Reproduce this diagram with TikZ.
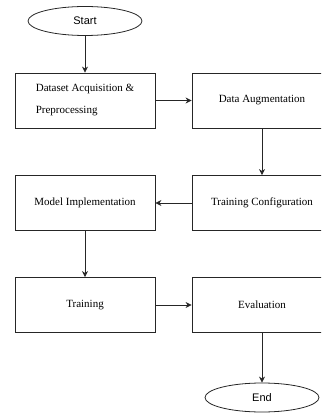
\documentclass[tikz,border=0pt]{standalone}
\usepackage{fontspec}
\setmainfont{Liberation Serif}
\newfontfamily\arialfont{Liberation Sans}
\usetikzlibrary{shapes.geometric,arrows.meta}
\begin{document}
\begin{tikzpicture}[x=1pt,y=-1pt,
  procbox/.style={draw=black!85,line width=0.8pt,minimum width=140pt,minimum height=55pt,inner sep=0pt,
    font=\fontsize{11}{22}\selectfont,align=left},
  term/.style={draw=black!85,line width=0.8pt,ellipse,minimum width=114pt,minimum height=29pt,inner sep=0pt,
    font=\arialfont\fontsize{11}{13}\selectfont},
  conn/.style={draw=black!85,line width=0.8pt,-{Stealth[length=6pt,width=6pt]}}]
\useasboundingbox (0,0) rectangle (321,414);
\clip (0,0) rectangle (321,414);
\node[term] (start) at (85,21) {Start};
\node[procbox] (acq) at (85,100.5) {Dataset Acquisition \&\\Preprocessing};
\node[procbox] (aug) at (262,100.5) {Data Augmentation};
\node[procbox] (cfg) at (262,203) {Training Configuration};
\node[procbox] (impl) at (85,203) {Model Implementation};
\node[procbox] (train) at (85,305) {Training};
\node[procbox] (eval) at (262,305) {Evaluation};
\node[term] (end) at (262,397.5) {End};
\draw[conn] (start) -- (acq);
\draw[conn] (acq) -- (aug);
\draw[conn] (aug) -- (cfg);
\draw[conn] (cfg) -- (impl);
\draw[conn] (impl) -- (train);
\draw[conn] (train) -- (eval);
\draw[conn] (eval) -- (end);
\end{tikzpicture}
\end{document}
